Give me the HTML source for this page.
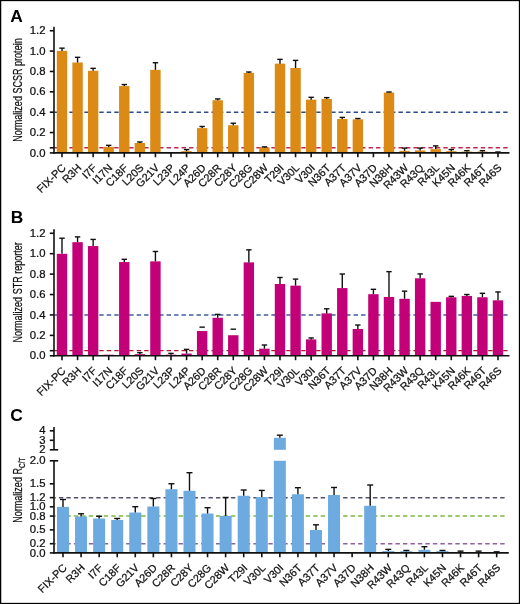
<!DOCTYPE html><html><head><meta charset="utf-8"><style>html,body{margin:0;padding:0;background:#fff}svg{display:block;will-change:transform}</style></head><body><svg width="520" height="604" viewBox="0 0 520 604">
<style>.ax{stroke:#111;stroke-width:1.6;fill:none}.eb{stroke:#111;stroke-width:1.4}.tl{font-family:"Liberation Sans", sans-serif;font-size:10.2px;text-anchor:end;fill:#111;stroke:#111;stroke-width:0.25px}.xl{font-family:"Liberation Sans", sans-serif;font-size:10.8px;text-anchor:end;fill:#111;stroke:#111;stroke-width:0.25px}.yl{font-family:"Liberation Sans", sans-serif;font-size:13.5px;fill:#111;stroke:#111;stroke-width:0.25px}.pl{font-family:"Liberation Sans", sans-serif;font-size:17.4px;font-weight:bold;fill:#000}</style>
<rect x="0" y="0" width="520" height="604" fill="#fff"/>
<text x="10.2" y="22.0" class="pl">A</text>
<text x="10.8" y="223.0" class="pl">B</text>
<text x="10.2" y="420.9" class="pl">C</text>
<line x1="54.40" y1="112.18" x2="508.00" y2="112.18" stroke="#2B4C8C" stroke-width="1.4" stroke-dasharray="4.4 3.08" stroke-dashoffset="0.00"/>
<line x1="54.40" y1="147.81" x2="508.00" y2="147.81" stroke="#C0284F" stroke-width="1.4" stroke-dasharray="4.4 3.08" stroke-dashoffset="0.00"/>
<rect x="56.80" y="50.89" width="10.40" height="102.01" fill="#DA8A15"/>
<line x1="62.00" y1="50.89" x2="62.00" y2="48.14" class="eb"/>
<line x1="59.30" y1="48.14" x2="64.70" y2="48.14" class="eb"/>
<rect x="72.37" y="62.52" width="10.40" height="90.38" fill="#DA8A15"/>
<line x1="77.57" y1="62.52" x2="77.57" y2="57.32" class="eb"/>
<line x1="74.87" y1="57.32" x2="80.27" y2="57.32" class="eb"/>
<rect x="87.94" y="70.78" width="10.40" height="82.12" fill="#DA8A15"/>
<line x1="93.14" y1="70.78" x2="93.14" y2="68.34" class="eb"/>
<line x1="90.44" y1="68.34" x2="95.84" y2="68.34" class="eb"/>
<rect x="103.51" y="146.88" width="10.40" height="6.02" fill="#DA8A15"/>
<line x1="108.71" y1="146.88" x2="108.71" y2="145.35" class="eb"/>
<line x1="106.01" y1="145.35" x2="111.41" y2="145.35" class="eb"/>
<rect x="119.08" y="86.08" width="10.40" height="66.82" fill="#DA8A15"/>
<line x1="124.28" y1="86.08" x2="124.28" y2="84.55" class="eb"/>
<line x1="121.58" y1="84.55" x2="126.98" y2="84.55" class="eb"/>
<rect x="134.66" y="143.00" width="10.40" height="9.90" fill="#DA8A15"/>
<line x1="139.86" y1="143.00" x2="139.86" y2="141.98" class="eb"/>
<line x1="137.16" y1="141.98" x2="142.56" y2="141.98" class="eb"/>
<rect x="150.23" y="69.87" width="10.40" height="83.03" fill="#DA8A15"/>
<line x1="155.43" y1="69.87" x2="155.43" y2="62.73" class="eb"/>
<line x1="152.73" y1="62.73" x2="158.13" y2="62.73" class="eb"/>
<rect x="181.37" y="151.16" width="10.40" height="1.74" fill="#DA8A15"/>
<line x1="186.57" y1="151.16" x2="186.57" y2="149.53" class="eb"/>
<line x1="183.87" y1="149.53" x2="189.27" y2="149.53" class="eb"/>
<rect x="196.94" y="128.11" width="10.40" height="24.79" fill="#DA8A15"/>
<line x1="202.14" y1="128.11" x2="202.14" y2="126.48" class="eb"/>
<line x1="199.44" y1="126.48" x2="204.84" y2="126.48" class="eb"/>
<rect x="212.51" y="100.26" width="10.40" height="52.64" fill="#DA8A15"/>
<line x1="217.71" y1="100.26" x2="217.71" y2="98.94" class="eb"/>
<line x1="215.01" y1="98.94" x2="220.41" y2="98.94" class="eb"/>
<rect x="228.08" y="125.25" width="10.40" height="27.65" fill="#DA8A15"/>
<line x1="233.28" y1="125.25" x2="233.28" y2="123.21" class="eb"/>
<line x1="230.58" y1="123.21" x2="235.98" y2="123.21" class="eb"/>
<rect x="243.65" y="72.93" width="10.40" height="79.97" fill="#DA8A15"/>
<line x1="248.85" y1="72.93" x2="248.85" y2="72.01" class="eb"/>
<line x1="246.15" y1="72.01" x2="251.55" y2="72.01" class="eb"/>
<rect x="259.22" y="147.39" width="10.40" height="5.51" fill="#DA8A15"/>
<line x1="264.42" y1="147.39" x2="264.42" y2="146.88" class="eb"/>
<line x1="261.72" y1="146.88" x2="267.12" y2="146.88" class="eb"/>
<rect x="274.79" y="63.64" width="10.40" height="89.26" fill="#DA8A15"/>
<line x1="279.99" y1="63.64" x2="279.99" y2="59.36" class="eb"/>
<line x1="277.29" y1="59.36" x2="282.69" y2="59.36" class="eb"/>
<rect x="290.37" y="68.03" width="10.40" height="84.87" fill="#DA8A15"/>
<line x1="295.56" y1="68.03" x2="295.56" y2="60.38" class="eb"/>
<line x1="292.87" y1="60.38" x2="298.26" y2="60.38" class="eb"/>
<rect x="305.94" y="99.65" width="10.40" height="53.25" fill="#DA8A15"/>
<line x1="311.14" y1="99.65" x2="311.14" y2="97.30" class="eb"/>
<line x1="308.44" y1="97.30" x2="313.84" y2="97.30" class="eb"/>
<rect x="321.51" y="98.94" width="10.40" height="53.96" fill="#DA8A15"/>
<line x1="326.71" y1="98.94" x2="326.71" y2="97.61" class="eb"/>
<line x1="324.01" y1="97.61" x2="329.41" y2="97.61" class="eb"/>
<rect x="337.08" y="119.03" width="10.40" height="33.87" fill="#DA8A15"/>
<line x1="342.28" y1="119.03" x2="342.28" y2="117.40" class="eb"/>
<line x1="339.58" y1="117.40" x2="344.98" y2="117.40" class="eb"/>
<rect x="352.65" y="119.34" width="10.40" height="33.56" fill="#DA8A15"/>
<line x1="357.85" y1="119.34" x2="357.85" y2="118.52" class="eb"/>
<line x1="355.15" y1="118.52" x2="360.55" y2="118.52" class="eb"/>
<rect x="383.79" y="92.61" width="10.40" height="60.29" fill="#DA8A15"/>
<line x1="388.99" y1="92.61" x2="388.99" y2="92.00" class="eb"/>
<line x1="386.29" y1="92.00" x2="391.69" y2="92.00" class="eb"/>
<rect x="399.36" y="150.85" width="10.40" height="2.05" fill="#DA8A15"/>
<line x1="404.56" y1="150.85" x2="404.56" y2="148.10" class="eb"/>
<line x1="401.86" y1="148.10" x2="407.26" y2="148.10" class="eb"/>
<rect x="414.93" y="150.45" width="10.40" height="2.45" fill="#DA8A15"/>
<line x1="420.13" y1="150.45" x2="420.13" y2="148.10" class="eb"/>
<line x1="417.43" y1="148.10" x2="422.83" y2="148.10" class="eb"/>
<rect x="430.50" y="149.12" width="10.40" height="3.78" fill="#DA8A15"/>
<line x1="435.70" y1="149.12" x2="435.70" y2="145.86" class="eb"/>
<line x1="433.00" y1="145.86" x2="438.40" y2="145.86" class="eb"/>
<rect x="446.07" y="151.16" width="10.40" height="1.74" fill="#DA8A15"/>
<line x1="451.27" y1="151.16" x2="451.27" y2="149.53" class="eb"/>
<line x1="448.57" y1="149.53" x2="453.97" y2="149.53" class="eb"/>
<rect x="461.65" y="151.57" width="10.40" height="1.33" fill="#DA8A15"/>
<line x1="466.85" y1="151.57" x2="466.85" y2="150.65" class="eb"/>
<line x1="464.15" y1="150.65" x2="469.55" y2="150.65" class="eb"/>
<rect x="477.22" y="151.57" width="10.40" height="1.33" fill="#DA8A15"/>
<line x1="482.42" y1="151.57" x2="482.42" y2="150.65" class="eb"/>
<line x1="479.72" y1="150.65" x2="485.12" y2="150.65" class="eb"/>
<rect x="492.79" y="152.49" width="10.40" height="0.41" fill="#DA8A15"/>
<line x1="497.99" y1="152.49" x2="497.99" y2="151.98" class="eb"/>
<line x1="495.29" y1="151.98" x2="500.69" y2="151.98" class="eb"/>
<line x1="54.00" y1="26.70" x2="54.00" y2="153.70" class="ax"/>
<line x1="53.20" y1="152.90" x2="509.50" y2="152.90" class="ax"/>
<line x1="49.80" y1="152.90" x2="54.00" y2="152.90" class="ax"/>
<text class="tl" transform="translate(45.50 156.50) scale(1.11 1)">0.0</text>
<line x1="49.80" y1="147.81" x2="54.00" y2="147.81" class="ax"/>
<line x1="49.80" y1="132.54" x2="54.00" y2="132.54" class="ax"/>
<text class="tl" transform="translate(45.50 136.14) scale(1.11 1)">0.2</text>
<line x1="49.80" y1="112.18" x2="54.00" y2="112.18" class="ax"/>
<text class="tl" transform="translate(45.50 115.78) scale(1.11 1)">0.4</text>
<line x1="49.80" y1="91.82" x2="54.00" y2="91.82" class="ax"/>
<text class="tl" transform="translate(45.50 95.42) scale(1.11 1)">0.6</text>
<line x1="49.80" y1="71.46" x2="54.00" y2="71.46" class="ax"/>
<text class="tl" transform="translate(45.50 75.06) scale(1.11 1)">0.8</text>
<line x1="49.80" y1="51.10" x2="54.00" y2="51.10" class="ax"/>
<text class="tl" transform="translate(45.50 54.70) scale(1.11 1)">1.0</text>
<line x1="49.80" y1="30.74" x2="54.00" y2="30.74" class="ax"/>
<text class="tl" transform="translate(45.50 34.34) scale(1.11 1)">1.2</text>
<line x1="62.00" y1="152.90" x2="62.00" y2="157.30" class="ax"/>
<text x="66.40" y="168.50" class="xl" transform="rotate(-45 66.40 168.50)">FIX-PC</text>
<line x1="77.57" y1="152.90" x2="77.57" y2="157.30" class="ax"/>
<text x="81.97" y="168.50" class="xl" transform="rotate(-45 81.97 168.50)">R3H</text>
<line x1="93.14" y1="152.90" x2="93.14" y2="157.30" class="ax"/>
<text x="97.54" y="168.50" class="xl" transform="rotate(-45 97.54 168.50)">I7F</text>
<line x1="108.71" y1="152.90" x2="108.71" y2="157.30" class="ax"/>
<text x="113.11" y="168.50" class="xl" transform="rotate(-45 113.11 168.50)">I17N</text>
<line x1="124.28" y1="152.90" x2="124.28" y2="157.30" class="ax"/>
<text x="128.68" y="168.50" class="xl" transform="rotate(-45 128.68 168.50)">C18F</text>
<line x1="139.86" y1="152.90" x2="139.86" y2="157.30" class="ax"/>
<text x="144.26" y="168.50" class="xl" transform="rotate(-45 144.26 168.50)">L20S</text>
<line x1="155.43" y1="152.90" x2="155.43" y2="157.30" class="ax"/>
<text x="159.83" y="168.50" class="xl" transform="rotate(-45 159.83 168.50)">G21V</text>
<line x1="171.00" y1="152.90" x2="171.00" y2="157.30" class="ax"/>
<text x="175.40" y="168.50" class="xl" transform="rotate(-45 175.40 168.50)">L23P</text>
<line x1="186.57" y1="152.90" x2="186.57" y2="157.30" class="ax"/>
<text x="190.97" y="168.50" class="xl" transform="rotate(-45 190.97 168.50)">L24P</text>
<line x1="202.14" y1="152.90" x2="202.14" y2="157.30" class="ax"/>
<text x="206.54" y="168.50" class="xl" transform="rotate(-45 206.54 168.50)">A26D</text>
<line x1="217.71" y1="152.90" x2="217.71" y2="157.30" class="ax"/>
<text x="222.11" y="168.50" class="xl" transform="rotate(-45 222.11 168.50)">C28R</text>
<line x1="233.28" y1="152.90" x2="233.28" y2="157.30" class="ax"/>
<text x="237.68" y="168.50" class="xl" transform="rotate(-45 237.68 168.50)">C28Y</text>
<line x1="248.85" y1="152.90" x2="248.85" y2="157.30" class="ax"/>
<text x="253.25" y="168.50" class="xl" transform="rotate(-45 253.25 168.50)">C28G</text>
<line x1="264.42" y1="152.90" x2="264.42" y2="157.30" class="ax"/>
<text x="268.82" y="168.50" class="xl" transform="rotate(-45 268.82 168.50)">C28W</text>
<line x1="279.99" y1="152.90" x2="279.99" y2="157.30" class="ax"/>
<text x="284.39" y="168.50" class="xl" transform="rotate(-45 284.39 168.50)">T29I</text>
<line x1="295.56" y1="152.90" x2="295.56" y2="157.30" class="ax"/>
<text x="299.96" y="168.50" class="xl" transform="rotate(-45 299.96 168.50)">V30L</text>
<line x1="311.14" y1="152.90" x2="311.14" y2="157.30" class="ax"/>
<text x="315.54" y="168.50" class="xl" transform="rotate(-45 315.54 168.50)">V30I</text>
<line x1="326.71" y1="152.90" x2="326.71" y2="157.30" class="ax"/>
<text x="331.11" y="168.50" class="xl" transform="rotate(-45 331.11 168.50)">N36T</text>
<line x1="342.28" y1="152.90" x2="342.28" y2="157.30" class="ax"/>
<text x="346.68" y="168.50" class="xl" transform="rotate(-45 346.68 168.50)">A37T</text>
<line x1="357.85" y1="152.90" x2="357.85" y2="157.30" class="ax"/>
<text x="362.25" y="168.50" class="xl" transform="rotate(-45 362.25 168.50)">A37V</text>
<line x1="373.42" y1="152.90" x2="373.42" y2="157.30" class="ax"/>
<text x="377.82" y="168.50" class="xl" transform="rotate(-45 377.82 168.50)">A37D</text>
<line x1="388.99" y1="152.90" x2="388.99" y2="157.30" class="ax"/>
<text x="393.39" y="168.50" class="xl" transform="rotate(-45 393.39 168.50)">N38H</text>
<line x1="404.56" y1="152.90" x2="404.56" y2="157.30" class="ax"/>
<text x="408.96" y="168.50" class="xl" transform="rotate(-45 408.96 168.50)">R43W</text>
<line x1="420.13" y1="152.90" x2="420.13" y2="157.30" class="ax"/>
<text x="424.53" y="168.50" class="xl" transform="rotate(-45 424.53 168.50)">R43Q</text>
<line x1="435.70" y1="152.90" x2="435.70" y2="157.30" class="ax"/>
<text x="440.10" y="168.50" class="xl" transform="rotate(-45 440.10 168.50)">R43L</text>
<line x1="451.27" y1="152.90" x2="451.27" y2="157.30" class="ax"/>
<text x="455.67" y="168.50" class="xl" transform="rotate(-45 455.67 168.50)">K45N</text>
<line x1="466.85" y1="152.90" x2="466.85" y2="157.30" class="ax"/>
<text x="471.25" y="168.50" class="xl" transform="rotate(-45 471.25 168.50)">R46K</text>
<line x1="482.42" y1="152.90" x2="482.42" y2="157.30" class="ax"/>
<text x="486.82" y="168.50" class="xl" transform="rotate(-45 486.82 168.50)">R46T</text>
<line x1="497.99" y1="152.90" x2="497.99" y2="157.30" class="ax"/>
<text x="502.39" y="168.50" class="xl" transform="rotate(-45 502.39 168.50)">R46S</text>
<text class="yl" transform="translate(22.40 141.80) rotate(-90) scale(0.67 1)">Normalized SCSR protein</text>
<line x1="54.40" y1="314.96" x2="508.00" y2="314.96" stroke="#3F5E9A" stroke-width="1.4" stroke-dasharray="4.4 3.08" stroke-dashoffset="0.00"/>
<line x1="54.40" y1="350.69" x2="508.00" y2="350.69" stroke="#B4142A" stroke-width="1.3" stroke-dasharray="4.4 3.08" stroke-dashoffset="0.00"/>
<rect x="56.80" y="253.81" width="10.40" height="101.99" fill="#C20078"/>
<line x1="62.00" y1="253.81" x2="62.00" y2="238.21" class="eb"/>
<line x1="59.30" y1="238.21" x2="64.70" y2="238.21" class="eb"/>
<rect x="72.37" y="242.18" width="10.40" height="113.62" fill="#C20078"/>
<line x1="77.57" y1="242.18" x2="77.57" y2="236.88" class="eb"/>
<line x1="74.87" y1="236.88" x2="80.27" y2="236.88" class="eb"/>
<rect x="87.94" y="246.06" width="10.40" height="109.74" fill="#C20078"/>
<line x1="93.14" y1="246.06" x2="93.14" y2="239.43" class="eb"/>
<line x1="90.44" y1="239.43" x2="95.84" y2="239.43" class="eb"/>
<rect x="103.51" y="354.69" width="10.40" height="1.11" fill="#C20078"/>
<rect x="119.08" y="262.07" width="10.40" height="93.73" fill="#C20078"/>
<line x1="124.28" y1="262.07" x2="124.28" y2="259.32" class="eb"/>
<line x1="121.58" y1="259.32" x2="126.98" y2="259.32" class="eb"/>
<rect x="134.66" y="354.18" width="10.40" height="1.62" fill="#C20078"/>
<line x1="139.86" y1="354.18" x2="139.86" y2="352.65" class="eb"/>
<line x1="137.16" y1="352.65" x2="142.56" y2="352.65" class="eb"/>
<rect x="150.23" y="261.36" width="10.40" height="94.44" fill="#C20078"/>
<line x1="155.43" y1="261.36" x2="155.43" y2="251.47" class="eb"/>
<line x1="152.73" y1="251.47" x2="158.13" y2="251.47" class="eb"/>
<rect x="165.80" y="354.69" width="10.40" height="1.11" fill="#C20078"/>
<line x1="171.00" y1="354.69" x2="171.00" y2="353.36" class="eb"/>
<line x1="168.30" y1="353.36" x2="173.70" y2="353.36" class="eb"/>
<rect x="181.37" y="353.57" width="10.40" height="2.23" fill="#C20078"/>
<line x1="186.57" y1="353.57" x2="186.57" y2="349.39" class="eb"/>
<line x1="183.87" y1="349.39" x2="189.27" y2="349.39" class="eb"/>
<rect x="196.94" y="331.03" width="10.40" height="24.77" fill="#C20078"/>
<line x1="199.44" y1="327.15" x2="204.84" y2="327.15" class="eb"/>
<rect x="212.51" y="317.77" width="10.40" height="38.03" fill="#C20078"/>
<line x1="217.71" y1="317.77" x2="217.71" y2="314.40" class="eb"/>
<line x1="215.01" y1="314.40" x2="220.41" y2="314.40" class="eb"/>
<rect x="228.08" y="335.21" width="10.40" height="20.59" fill="#C20078"/>
<line x1="230.58" y1="329.19" x2="235.98" y2="329.19" class="eb"/>
<rect x="243.65" y="262.38" width="10.40" height="93.42" fill="#C20078"/>
<line x1="248.85" y1="262.38" x2="248.85" y2="249.83" class="eb"/>
<line x1="246.15" y1="249.83" x2="251.55" y2="249.83" class="eb"/>
<rect x="259.22" y="348.67" width="10.40" height="7.13" fill="#C20078"/>
<line x1="264.42" y1="348.67" x2="264.42" y2="345.00" class="eb"/>
<line x1="261.72" y1="345.00" x2="267.12" y2="345.00" class="eb"/>
<rect x="274.79" y="284.00" width="10.40" height="71.80" fill="#C20078"/>
<line x1="279.99" y1="284.00" x2="279.99" y2="277.48" class="eb"/>
<line x1="277.29" y1="277.48" x2="282.69" y2="277.48" class="eb"/>
<rect x="290.37" y="285.64" width="10.40" height="70.16" fill="#C20078"/>
<line x1="295.56" y1="285.64" x2="295.56" y2="279.11" class="eb"/>
<line x1="292.87" y1="279.11" x2="298.26" y2="279.11" class="eb"/>
<rect x="305.94" y="339.39" width="10.40" height="16.41" fill="#C20078"/>
<line x1="311.14" y1="339.39" x2="311.14" y2="337.96" class="eb"/>
<line x1="308.44" y1="337.96" x2="313.84" y2="337.96" class="eb"/>
<rect x="321.51" y="313.38" width="10.40" height="42.42" fill="#C20078"/>
<line x1="326.71" y1="313.38" x2="326.71" y2="308.79" class="eb"/>
<line x1="324.01" y1="308.79" x2="329.41" y2="308.79" class="eb"/>
<rect x="337.08" y="288.08" width="10.40" height="67.72" fill="#C20078"/>
<line x1="342.28" y1="288.08" x2="342.28" y2="274.01" class="eb"/>
<line x1="339.58" y1="274.01" x2="344.98" y2="274.01" class="eb"/>
<rect x="352.65" y="328.99" width="10.40" height="26.81" fill="#C20078"/>
<line x1="357.85" y1="328.99" x2="357.85" y2="325.01" class="eb"/>
<line x1="355.15" y1="325.01" x2="360.55" y2="325.01" class="eb"/>
<rect x="368.22" y="294.20" width="10.40" height="61.60" fill="#C20078"/>
<line x1="373.42" y1="294.20" x2="373.42" y2="289.31" class="eb"/>
<line x1="370.72" y1="289.31" x2="376.12" y2="289.31" class="eb"/>
<rect x="383.79" y="296.96" width="10.40" height="58.84" fill="#C20078"/>
<line x1="388.99" y1="296.96" x2="388.99" y2="271.66" class="eb"/>
<line x1="386.29" y1="271.66" x2="391.69" y2="271.66" class="eb"/>
<rect x="399.36" y="298.79" width="10.40" height="57.01" fill="#C20078"/>
<line x1="404.56" y1="298.79" x2="404.56" y2="291.14" class="eb"/>
<line x1="401.86" y1="291.14" x2="407.26" y2="291.14" class="eb"/>
<rect x="414.93" y="278.29" width="10.40" height="77.51" fill="#C20078"/>
<line x1="420.13" y1="278.29" x2="420.13" y2="273.91" class="eb"/>
<line x1="417.43" y1="273.91" x2="422.83" y2="273.91" class="eb"/>
<rect x="430.50" y="301.85" width="10.40" height="53.95" fill="#C20078"/>
<rect x="446.07" y="297.26" width="10.40" height="58.54" fill="#C20078"/>
<line x1="451.27" y1="297.26" x2="451.27" y2="296.35" class="eb"/>
<line x1="448.57" y1="296.35" x2="453.97" y2="296.35" class="eb"/>
<rect x="461.65" y="295.94" width="10.40" height="59.86" fill="#C20078"/>
<line x1="466.85" y1="295.94" x2="466.85" y2="294.51" class="eb"/>
<line x1="464.15" y1="294.51" x2="469.55" y2="294.51" class="eb"/>
<rect x="477.22" y="297.26" width="10.40" height="58.54" fill="#C20078"/>
<line x1="482.42" y1="297.26" x2="482.42" y2="293.29" class="eb"/>
<line x1="479.72" y1="293.29" x2="485.12" y2="293.29" class="eb"/>
<rect x="492.79" y="300.32" width="10.40" height="55.48" fill="#C20078"/>
<line x1="497.99" y1="300.32" x2="497.99" y2="291.96" class="eb"/>
<line x1="495.29" y1="291.96" x2="500.69" y2="291.96" class="eb"/>
<line x1="54.00" y1="229.20" x2="54.00" y2="356.60" class="ax"/>
<line x1="53.20" y1="355.80" x2="509.50" y2="355.80" class="ax"/>
<line x1="49.80" y1="355.80" x2="54.00" y2="355.80" class="ax"/>
<text class="tl" transform="translate(45.50 359.40) scale(1.11 1)">0.0</text>
<line x1="49.80" y1="350.69" x2="54.00" y2="350.69" class="ax"/>
<line x1="49.80" y1="335.38" x2="54.00" y2="335.38" class="ax"/>
<text class="tl" transform="translate(45.50 338.98) scale(1.11 1)">0.2</text>
<line x1="49.80" y1="314.96" x2="54.00" y2="314.96" class="ax"/>
<text class="tl" transform="translate(45.50 318.56) scale(1.11 1)">0.4</text>
<line x1="49.80" y1="294.54" x2="54.00" y2="294.54" class="ax"/>
<text class="tl" transform="translate(45.50 298.14) scale(1.11 1)">0.6</text>
<line x1="49.80" y1="274.12" x2="54.00" y2="274.12" class="ax"/>
<text class="tl" transform="translate(45.50 277.72) scale(1.11 1)">0.8</text>
<line x1="49.80" y1="253.70" x2="54.00" y2="253.70" class="ax"/>
<text class="tl" transform="translate(45.50 257.30) scale(1.11 1)">1.0</text>
<line x1="49.80" y1="233.28" x2="54.00" y2="233.28" class="ax"/>
<text class="tl" transform="translate(45.50 236.88) scale(1.11 1)">1.2</text>
<line x1="62.00" y1="355.80" x2="62.00" y2="360.20" class="ax"/>
<text x="66.40" y="371.40" class="xl" transform="rotate(-45 66.40 371.40)">FIX-PC</text>
<line x1="77.57" y1="355.80" x2="77.57" y2="360.20" class="ax"/>
<text x="81.97" y="371.40" class="xl" transform="rotate(-45 81.97 371.40)">R3H</text>
<line x1="93.14" y1="355.80" x2="93.14" y2="360.20" class="ax"/>
<text x="97.54" y="371.40" class="xl" transform="rotate(-45 97.54 371.40)">I7F</text>
<line x1="108.71" y1="355.80" x2="108.71" y2="360.20" class="ax"/>
<text x="113.11" y="371.40" class="xl" transform="rotate(-45 113.11 371.40)">I17N</text>
<line x1="124.28" y1="355.80" x2="124.28" y2="360.20" class="ax"/>
<text x="128.68" y="371.40" class="xl" transform="rotate(-45 128.68 371.40)">C18F</text>
<line x1="139.86" y1="355.80" x2="139.86" y2="360.20" class="ax"/>
<text x="144.26" y="371.40" class="xl" transform="rotate(-45 144.26 371.40)">L20S</text>
<line x1="155.43" y1="355.80" x2="155.43" y2="360.20" class="ax"/>
<text x="159.83" y="371.40" class="xl" transform="rotate(-45 159.83 371.40)">G21V</text>
<line x1="171.00" y1="355.80" x2="171.00" y2="360.20" class="ax"/>
<text x="175.40" y="371.40" class="xl" transform="rotate(-45 175.40 371.40)">L23P</text>
<line x1="186.57" y1="355.80" x2="186.57" y2="360.20" class="ax"/>
<text x="190.97" y="371.40" class="xl" transform="rotate(-45 190.97 371.40)">L24P</text>
<line x1="202.14" y1="355.80" x2="202.14" y2="360.20" class="ax"/>
<text x="206.54" y="371.40" class="xl" transform="rotate(-45 206.54 371.40)">A26D</text>
<line x1="217.71" y1="355.80" x2="217.71" y2="360.20" class="ax"/>
<text x="222.11" y="371.40" class="xl" transform="rotate(-45 222.11 371.40)">C28R</text>
<line x1="233.28" y1="355.80" x2="233.28" y2="360.20" class="ax"/>
<text x="237.68" y="371.40" class="xl" transform="rotate(-45 237.68 371.40)">C28Y</text>
<line x1="248.85" y1="355.80" x2="248.85" y2="360.20" class="ax"/>
<text x="253.25" y="371.40" class="xl" transform="rotate(-45 253.25 371.40)">C28G</text>
<line x1="264.42" y1="355.80" x2="264.42" y2="360.20" class="ax"/>
<text x="268.82" y="371.40" class="xl" transform="rotate(-45 268.82 371.40)">C28W</text>
<line x1="279.99" y1="355.80" x2="279.99" y2="360.20" class="ax"/>
<text x="284.39" y="371.40" class="xl" transform="rotate(-45 284.39 371.40)">T29I</text>
<line x1="295.56" y1="355.80" x2="295.56" y2="360.20" class="ax"/>
<text x="299.96" y="371.40" class="xl" transform="rotate(-45 299.96 371.40)">V30L</text>
<line x1="311.14" y1="355.80" x2="311.14" y2="360.20" class="ax"/>
<text x="315.54" y="371.40" class="xl" transform="rotate(-45 315.54 371.40)">V30I</text>
<line x1="326.71" y1="355.80" x2="326.71" y2="360.20" class="ax"/>
<text x="331.11" y="371.40" class="xl" transform="rotate(-45 331.11 371.40)">N36T</text>
<line x1="342.28" y1="355.80" x2="342.28" y2="360.20" class="ax"/>
<text x="346.68" y="371.40" class="xl" transform="rotate(-45 346.68 371.40)">A37T</text>
<line x1="357.85" y1="355.80" x2="357.85" y2="360.20" class="ax"/>
<text x="362.25" y="371.40" class="xl" transform="rotate(-45 362.25 371.40)">A37V</text>
<line x1="373.42" y1="355.80" x2="373.42" y2="360.20" class="ax"/>
<text x="377.82" y="371.40" class="xl" transform="rotate(-45 377.82 371.40)">A37D</text>
<line x1="388.99" y1="355.80" x2="388.99" y2="360.20" class="ax"/>
<text x="393.39" y="371.40" class="xl" transform="rotate(-45 393.39 371.40)">N38H</text>
<line x1="404.56" y1="355.80" x2="404.56" y2="360.20" class="ax"/>
<text x="408.96" y="371.40" class="xl" transform="rotate(-45 408.96 371.40)">R43W</text>
<line x1="420.13" y1="355.80" x2="420.13" y2="360.20" class="ax"/>
<text x="424.53" y="371.40" class="xl" transform="rotate(-45 424.53 371.40)">R43Q</text>
<line x1="435.70" y1="355.80" x2="435.70" y2="360.20" class="ax"/>
<text x="440.10" y="371.40" class="xl" transform="rotate(-45 440.10 371.40)">R43L</text>
<line x1="451.27" y1="355.80" x2="451.27" y2="360.20" class="ax"/>
<text x="455.67" y="371.40" class="xl" transform="rotate(-45 455.67 371.40)">K45N</text>
<line x1="466.85" y1="355.80" x2="466.85" y2="360.20" class="ax"/>
<text x="471.25" y="371.40" class="xl" transform="rotate(-45 471.25 371.40)">R46K</text>
<line x1="482.42" y1="355.80" x2="482.42" y2="360.20" class="ax"/>
<text x="486.82" y="371.40" class="xl" transform="rotate(-45 486.82 371.40)">R46T</text>
<line x1="497.99" y1="355.80" x2="497.99" y2="360.20" class="ax"/>
<text x="502.39" y="371.40" class="xl" transform="rotate(-45 502.39 371.40)">R46S</text>
<text class="yl" transform="translate(22.40 342.60) rotate(-90) scale(0.67 1)">Normalized STR reporter</text>
<line x1="54.90" y1="497.64" x2="504.60" y2="497.64" stroke="#505072" stroke-width="1.5" stroke-dasharray="4.4 3.08" stroke-dashoffset="3.50"/>
<line x1="54.90" y1="516.06" x2="504.60" y2="516.06" stroke="#7DB843" stroke-width="1.5" stroke-dasharray="4.4 3.08" stroke-dashoffset="3.50"/>
<line x1="54.90" y1="543.69" x2="504.60" y2="543.69" stroke="#8C62A0" stroke-width="1.5" stroke-dasharray="4.4 3.08" stroke-dashoffset="3.50"/>
<rect x="57.00" y="506.88" width="12.00" height="46.02" fill="#6CAAE0"/>
<line x1="63.00" y1="506.88" x2="63.00" y2="499.50" class="eb"/>
<line x1="60.00" y1="499.50" x2="66.00" y2="499.50" class="eb"/>
<rect x="75.07" y="516.51" width="12.00" height="36.39" fill="#6CAAE0"/>
<line x1="81.07" y1="516.51" x2="81.07" y2="513.80" class="eb"/>
<line x1="78.07" y1="513.80" x2="84.07" y2="513.80" class="eb"/>
<rect x="93.14" y="518.48" width="12.00" height="34.42" fill="#6CAAE0"/>
<line x1="99.14" y1="518.48" x2="99.14" y2="516.28" class="eb"/>
<line x1="96.14" y1="516.28" x2="102.14" y2="516.28" class="eb"/>
<rect x="111.21" y="519.99" width="12.00" height="32.91" fill="#6CAAE0"/>
<line x1="117.21" y1="519.99" x2="117.21" y2="518.48" class="eb"/>
<line x1="114.21" y1="518.48" x2="120.21" y2="518.48" class="eb"/>
<rect x="129.28" y="512.52" width="12.00" height="40.38" fill="#6CAAE0"/>
<line x1="135.28" y1="512.52" x2="135.28" y2="506.70" class="eb"/>
<line x1="132.28" y1="506.70" x2="138.28" y2="506.70" class="eb"/>
<rect x="147.35" y="506.51" width="12.00" height="46.39" fill="#6CAAE0"/>
<line x1="153.35" y1="506.51" x2="153.35" y2="498.49" class="eb"/>
<line x1="150.35" y1="498.49" x2="156.35" y2="498.49" class="eb"/>
<rect x="165.42" y="489.23" width="12.00" height="63.67" fill="#6CAAE0"/>
<line x1="171.42" y1="489.23" x2="171.42" y2="483.73" class="eb"/>
<line x1="168.42" y1="483.73" x2="174.42" y2="483.73" class="eb"/>
<rect x="183.49" y="490.79" width="12.00" height="62.11" fill="#6CAAE0"/>
<line x1="189.49" y1="490.79" x2="189.49" y2="472.72" class="eb"/>
<line x1="186.49" y1="472.72" x2="192.49" y2="472.72" class="eb"/>
<rect x="201.56" y="513.53" width="12.00" height="39.37" fill="#6CAAE0"/>
<line x1="207.56" y1="513.53" x2="207.56" y2="507.70" class="eb"/>
<line x1="204.56" y1="507.70" x2="210.56" y2="507.70" class="eb"/>
<rect x="219.63" y="516.00" width="12.00" height="36.90" fill="#6CAAE0"/>
<line x1="225.63" y1="516.00" x2="225.63" y2="497.48" class="eb"/>
<line x1="222.63" y1="497.48" x2="228.63" y2="497.48" class="eb"/>
<rect x="237.70" y="495.78" width="12.00" height="57.12" fill="#6CAAE0"/>
<line x1="243.70" y1="495.78" x2="243.70" y2="490.01" class="eb"/>
<line x1="240.70" y1="490.01" x2="246.70" y2="490.01" class="eb"/>
<rect x="255.77" y="497.11" width="12.00" height="55.79" fill="#6CAAE0"/>
<line x1="261.77" y1="497.11" x2="261.77" y2="490.42" class="eb"/>
<line x1="258.77" y1="490.42" x2="264.77" y2="490.42" class="eb"/>
<rect x="273.84" y="460.80" width="12.00" height="92.10" fill="#6CAAE0"/>
<rect x="273.84" y="437.83" width="12.00" height="11.97" fill="#6CAAE0"/>
<line x1="279.84" y1="437.83" x2="279.84" y2="435.17" class="eb"/>
<line x1="276.84" y1="435.17" x2="282.84" y2="435.17" class="eb"/>
<rect x="291.91" y="494.27" width="12.00" height="58.63" fill="#6CAAE0"/>
<line x1="297.91" y1="494.27" x2="297.91" y2="487.71" class="eb"/>
<line x1="294.91" y1="487.71" x2="300.91" y2="487.71" class="eb"/>
<rect x="309.98" y="530.03" width="12.00" height="22.87" fill="#6CAAE0"/>
<line x1="315.98" y1="530.03" x2="315.98" y2="524.81" class="eb"/>
<line x1="312.98" y1="524.81" x2="318.98" y2="524.81" class="eb"/>
<rect x="328.05" y="495.00" width="12.00" height="57.90" fill="#6CAAE0"/>
<line x1="334.05" y1="495.00" x2="334.05" y2="487.48" class="eb"/>
<line x1="331.05" y1="487.48" x2="337.05" y2="487.48" class="eb"/>
<rect x="364.19" y="505.78" width="12.00" height="47.12" fill="#6CAAE0"/>
<line x1="370.19" y1="505.78" x2="370.19" y2="485.01" class="eb"/>
<line x1="367.19" y1="485.01" x2="373.19" y2="485.01" class="eb"/>
<rect x="382.26" y="551.12" width="12.00" height="1.78" fill="#6CAAE0"/>
<line x1="388.26" y1="551.12" x2="388.26" y2="549.38" class="eb"/>
<line x1="385.26" y1="549.38" x2="391.26" y2="549.38" class="eb"/>
<rect x="400.33" y="551.22" width="12.00" height="1.68" fill="#6CAAE0"/>
<line x1="406.33" y1="551.22" x2="406.33" y2="550.44" class="eb"/>
<line x1="403.33" y1="550.44" x2="409.33" y2="550.44" class="eb"/>
<rect x="418.40" y="549.75" width="12.00" height="3.15" fill="#6CAAE0"/>
<line x1="424.40" y1="549.75" x2="424.40" y2="546.68" class="eb"/>
<line x1="421.40" y1="546.68" x2="427.40" y2="546.68" class="eb"/>
<rect x="436.47" y="551.12" width="12.00" height="1.78" fill="#6CAAE0"/>
<line x1="442.47" y1="551.12" x2="442.47" y2="550.44" class="eb"/>
<line x1="439.47" y1="550.44" x2="445.47" y2="550.44" class="eb"/>
<rect x="454.54" y="552.04" width="12.00" height="0.86" fill="#6CAAE0"/>
<line x1="460.54" y1="552.04" x2="460.54" y2="551.12" class="eb"/>
<line x1="457.54" y1="551.12" x2="463.54" y2="551.12" class="eb"/>
<rect x="472.61" y="552.04" width="12.00" height="0.86" fill="#6CAAE0"/>
<line x1="478.61" y1="552.04" x2="478.61" y2="551.12" class="eb"/>
<line x1="475.61" y1="551.12" x2="481.61" y2="551.12" class="eb"/>
<rect x="490.68" y="552.27" width="12.00" height="0.63" fill="#6CAAE0"/>
<line x1="496.68" y1="552.27" x2="496.68" y2="551.81" class="eb"/>
<line x1="493.68" y1="551.81" x2="499.68" y2="551.81" class="eb"/>
<line x1="54.00" y1="460.80" x2="54.00" y2="553.70" class="ax"/>
<line x1="53.20" y1="552.90" x2="508.8" y2="552.90" class="ax"/>
<line x1="49.80" y1="552.90" x2="54.00" y2="552.90" class="ax"/>
<text class="tl" transform="translate(45.50 556.50) scale(1.11 1)">0.0</text>
<line x1="49.80" y1="543.69" x2="54.00" y2="543.69" class="ax"/>
<text class="tl" transform="translate(45.50 547.29) scale(1.11 1)">0.2</text>
<line x1="49.80" y1="529.88" x2="54.00" y2="529.88" class="ax"/>
<text class="tl" transform="translate(45.50 533.48) scale(1.11 1)">0.5</text>
<line x1="49.80" y1="516.06" x2="54.00" y2="516.06" class="ax"/>
<text class="tl" transform="translate(45.50 519.66) scale(1.11 1)">0.8</text>
<line x1="49.80" y1="506.85" x2="54.00" y2="506.85" class="ax"/>
<text class="tl" transform="translate(45.50 510.45) scale(1.11 1)">1.0</text>
<line x1="49.80" y1="497.64" x2="54.00" y2="497.64" class="ax"/>
<text class="tl" transform="translate(45.50 501.24) scale(1.11 1)">1.2</text>
<line x1="49.80" y1="483.82" x2="54.00" y2="483.82" class="ax"/>
<text class="tl" transform="translate(45.50 487.43) scale(1.11 1)">1.5</text>
<line x1="49.80" y1="460.80" x2="58.20" y2="460.80" class="ax"/>
<text class="tl" transform="translate(45.5 464.40) scale(1.11 1)">2.0</text>
<line x1="54.00" y1="426.9" x2="54.00" y2="449.80" class="ax"/>
<line x1="49.80" y1="449.80" x2="58.20" y2="449.80" class="ax"/>
<line x1="49.80" y1="440.30" x2="54.00" y2="440.30" class="ax"/>
<line x1="49.80" y1="430.80" x2="54.00" y2="430.80" class="ax"/>
<text class="tl" transform="translate(45.5 453.40) scale(1.11 1)">2</text>
<text class="tl" transform="translate(45.5 443.90) scale(1.11 1)">3</text>
<text class="tl" transform="translate(45.5 434.40) scale(1.11 1)">4</text>
<line x1="63.00" y1="552.90" x2="63.00" y2="557.30" class="ax"/>
<text x="67.40" y="568.50" class="xl" transform="rotate(-45 67.40 568.50)">FIX-PC</text>
<line x1="81.07" y1="552.90" x2="81.07" y2="557.30" class="ax"/>
<text x="85.47" y="568.50" class="xl" transform="rotate(-45 85.47 568.50)">R3H</text>
<line x1="99.14" y1="552.90" x2="99.14" y2="557.30" class="ax"/>
<text x="103.54" y="568.50" class="xl" transform="rotate(-45 103.54 568.50)">I7F</text>
<line x1="117.21" y1="552.90" x2="117.21" y2="557.30" class="ax"/>
<text x="121.61" y="568.50" class="xl" transform="rotate(-45 121.61 568.50)">C18F</text>
<line x1="135.28" y1="552.90" x2="135.28" y2="557.30" class="ax"/>
<text x="139.68" y="568.50" class="xl" transform="rotate(-45 139.68 568.50)">G21V</text>
<line x1="153.35" y1="552.90" x2="153.35" y2="557.30" class="ax"/>
<text x="157.75" y="568.50" class="xl" transform="rotate(-45 157.75 568.50)">A26D</text>
<line x1="171.42" y1="552.90" x2="171.42" y2="557.30" class="ax"/>
<text x="175.82" y="568.50" class="xl" transform="rotate(-45 175.82 568.50)">C28R</text>
<line x1="189.49" y1="552.90" x2="189.49" y2="557.30" class="ax"/>
<text x="193.89" y="568.50" class="xl" transform="rotate(-45 193.89 568.50)">C28Y</text>
<line x1="207.56" y1="552.90" x2="207.56" y2="557.30" class="ax"/>
<text x="211.96" y="568.50" class="xl" transform="rotate(-45 211.96 568.50)">C28G</text>
<line x1="225.63" y1="552.90" x2="225.63" y2="557.30" class="ax"/>
<text x="230.03" y="568.50" class="xl" transform="rotate(-45 230.03 568.50)">C28W</text>
<line x1="243.70" y1="552.90" x2="243.70" y2="557.30" class="ax"/>
<text x="248.10" y="568.50" class="xl" transform="rotate(-45 248.10 568.50)">T29I</text>
<line x1="261.77" y1="552.90" x2="261.77" y2="557.30" class="ax"/>
<text x="266.17" y="568.50" class="xl" transform="rotate(-45 266.17 568.50)">V30L</text>
<line x1="279.84" y1="552.90" x2="279.84" y2="557.30" class="ax"/>
<text x="284.24" y="568.50" class="xl" transform="rotate(-45 284.24 568.50)">V30I</text>
<line x1="297.91" y1="552.90" x2="297.91" y2="557.30" class="ax"/>
<text x="302.31" y="568.50" class="xl" transform="rotate(-45 302.31 568.50)">N36T</text>
<line x1="315.98" y1="552.90" x2="315.98" y2="557.30" class="ax"/>
<text x="320.38" y="568.50" class="xl" transform="rotate(-45 320.38 568.50)">A37T</text>
<line x1="334.05" y1="552.90" x2="334.05" y2="557.30" class="ax"/>
<text x="338.45" y="568.50" class="xl" transform="rotate(-45 338.45 568.50)">A37V</text>
<line x1="352.12" y1="552.90" x2="352.12" y2="557.30" class="ax"/>
<text x="356.52" y="568.50" class="xl" transform="rotate(-45 356.52 568.50)">A37D</text>
<line x1="370.19" y1="552.90" x2="370.19" y2="557.30" class="ax"/>
<text x="374.59" y="568.50" class="xl" transform="rotate(-45 374.59 568.50)">N38H</text>
<line x1="388.26" y1="552.90" x2="388.26" y2="557.30" class="ax"/>
<text x="392.66" y="568.50" class="xl" transform="rotate(-45 392.66 568.50)">R43W</text>
<line x1="406.33" y1="552.90" x2="406.33" y2="557.30" class="ax"/>
<text x="410.73" y="568.50" class="xl" transform="rotate(-45 410.73 568.50)">R43Q</text>
<line x1="424.40" y1="552.90" x2="424.40" y2="557.30" class="ax"/>
<text x="428.80" y="568.50" class="xl" transform="rotate(-45 428.80 568.50)">R43L</text>
<line x1="442.47" y1="552.90" x2="442.47" y2="557.30" class="ax"/>
<text x="446.87" y="568.50" class="xl" transform="rotate(-45 446.87 568.50)">K45N</text>
<line x1="460.54" y1="552.90" x2="460.54" y2="557.30" class="ax"/>
<text x="464.94" y="568.50" class="xl" transform="rotate(-45 464.94 568.50)">R46K</text>
<line x1="478.61" y1="552.90" x2="478.61" y2="557.30" class="ax"/>
<text x="483.01" y="568.50" class="xl" transform="rotate(-45 483.01 568.50)">R46T</text>
<line x1="496.68" y1="552.90" x2="496.68" y2="557.30" class="ax"/>
<text x="501.08" y="568.50" class="xl" transform="rotate(-45 501.08 568.50)">R46S</text>
<text class="yl" transform="translate(22.40 522.80) rotate(-90) scale(0.67 1)">Normalized R<tspan font-size="9.8" dy="2.4">C/T</tspan></text>
<rect x="0.6" y="0.5" width="518.9" height="603" fill="none" stroke="#000" stroke-width="1.3"/>
</svg></body></html>
